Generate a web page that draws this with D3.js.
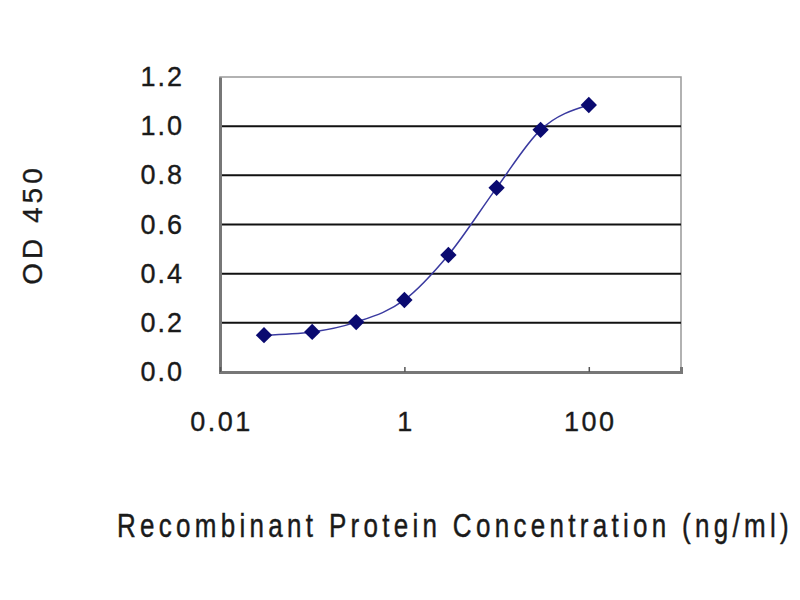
<!DOCTYPE html>
<html>
<head>
<meta charset="utf-8">
<script src="https://cdn.jsdelivr.net/npm/d3@7"></script>
<style>
  body { margin: 0; background: #fff; }
  text { font-family: "Liberation Sans", Arial, sans-serif; fill: #1a1a1a; stroke: #1a1a1a; stroke-width: 0.35px; }
</style>
</head>
<body>
<div id="chart"></div>
<script>
// concentrations (ng/ml) and OD 450 readings
const concentrations = [0.03, 0.1, 0.3, 1, 3, 10, 30, 100];
const odValues = [0.15, 0.163, 0.203, 0.293, 0.476, 0.749, 0.985, 1.086];
const xTicks = [0.01, 1, 100];
const yTicks = [0, 0.2, 0.4, 0.6, 0.8, 1.0, 1.2];

const width = 800, height = 600;
const margin = { top: 77, right: 119, bottom: 228, left: 220 };

const svg = d3.select("#chart").append("svg")
  .attr("width", width)
  .attr("height", height);

const x = d3.scaleLog()
  .domain([0.01, 1000])
  .range([margin.left, width - margin.right]);

const y = d3.scaleLinear()
  .domain([0, 1.2])
  .range([height - margin.bottom, margin.top]);

// frame (top / right)
svg.append("rect")
  .attr("x", x(0.01))
  .attr("y", y(1.2))
  .attr("width", x(1000) - x(0.01))
  .attr("height", y(0) - y(1.2))
  .attr("fill", "none")
  .attr("stroke", "#999")
  .attr("stroke-width", 1.5);

// gridlines
svg.append("g")
  .selectAll("line")
  .data(yTicks.filter(d => d > 0 && d < 1.2))
  .enter()
  .append("line")
  .attr("x1", x(0.01))
  .attr("x2", x(1000))
  .attr("y1", d => y(d))
  .attr("y2", d => y(d))
  .attr("stroke", "#111")
  .attr("stroke-width", 2);

// y axis
const yAxis = svg.append("g")
  .attr("transform", `translate(${x(0.01)},0)`)
  .call(d3.axisLeft(y).tickValues(yTicks).tickFormat(d3.format(".1f")).tickSize(0).tickPadding(36));
yAxis.select(".domain").attr("stroke", "#777").attr("stroke-width", 3);
yAxis.selectAll("text")
  .style("font-size", "27px")
  .style("letter-spacing", "2px")
  .attr("fill", "#1a1a1a");

// x axis
const xAxis = svg.append("g")
  .attr("transform", `translate(0,${y(0)})`)
  .call(d3.axisBottom(x).tickValues(xTicks).tickFormat(d => d3.format("~g")(d)).tickSize(-5).tickPadding(40));
xAxis.select(".domain").attr("stroke", "#777").attr("stroke-width", 3);
xAxis.selectAll(".tick line").attr("stroke", "#555").attr("stroke-width", 1.5);
xAxis.selectAll("text")
  .style("font-size", "27px")
  .style("letter-spacing", "2.5px")
  .attr("dx", "1px")
  .attr("fill", "#1a1a1a");

// curve
const line = d3.line()
  .x((d, i) => x(concentrations[i]))
  .y(d => y(d))
  .curve(d3.curveMonotoneX);

svg.append("path")
  .datum(odValues)
  .attr("d", line)
  .attr("fill", "none")
  .attr("stroke", "#3a3aa0")
  .attr("stroke-width", 1.5);

// markers
svg.append("g")
  .selectAll("path")
  .data(odValues)
  .enter()
  .append("path")
  .attr("transform", (d, i) => `translate(${x(concentrations[i])},${y(d)})`)
  .attr("d", d3.symbol().type(d3.symbolDiamond2).size(170))
  .attr("fill", "#0a0a70");

// axis titles
svg.append("text")
  .attr("transform", `translate(42,${(y(0) + y(1.2)) / 2}) rotate(-90)`)
  .attr("text-anchor", "middle")
  .style("font-size", "28px")
  .style("letter-spacing", "4px")
  .text("OD 450");

svg.append("text")
  .attr("transform", "translate(455,537) scale(1,1.3)")
  .attr("text-anchor", "middle")
  .style("font-size", "26px")
  .style("letter-spacing", "4.3px")
  .text("Recombinant Protein Concentration (ng/ml)");
</script>
</body>
</html>
